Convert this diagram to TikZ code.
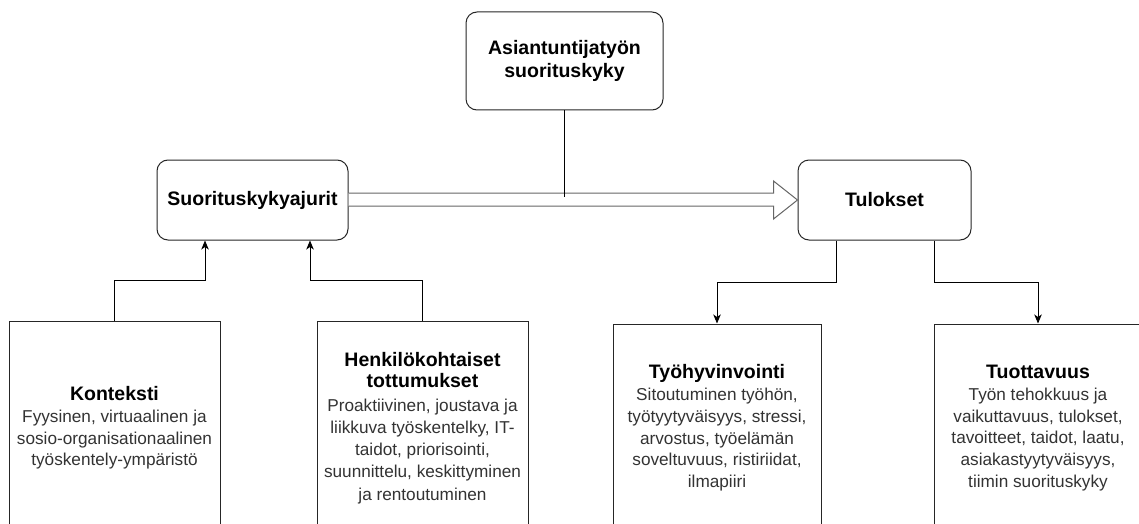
\documentclass[tikz,border=0pt]{standalone}
\usepackage{fontspec}
\setmainfont{Liberation Sans}
\usetikzlibrary{arrows.meta,calc}
\definecolor{bodytxt}{HTML}{333333}
\newcommand{\mytitlefont}{\fontsize{19.5}{23}\selectfont\bfseries}
\newcommand{\mybodyfont}{\fontsize{17.2}{21.8}\selectfont}
\begin{document}
\begin{tikzpicture}[x=1pt,y=-1pt,
  rbox/.style={draw=black!85, line width=1pt, rounded corners=11pt, align=center, inner sep=0pt, font=\mytitlefont},
  sbox/.style={draw=black!85, line width=1pt, align=center, inner sep=0pt, font=\mybodyfont, text=bodytxt},
  arr/.style={draw=black, line width=1pt, -{Stealth[length=9pt,width=7.5pt,inset=2.5pt]}},
  ln/.style={draw=black, line width=1pt},
  flex/.style={draw=black!60, line width=1pt, fill=white, line join=miter}]
\useasboundingbox (0,0) rectangle (1139,524);
\fill[white] (0,0) rectangle (1139,524);

\node[rbox, minimum width=197pt, minimum height=98pt] (top) at (564.5,61) {Asiantuntijatyön\\suorituskyky};
\node[rbox, minimum width=191pt, minimum height=80pt] (suor) at (252.5,200) {Suorituskykyajurit};
\node[rbox, minimum width=173pt, minimum height=80pt] (tul) at (884.5,200) {Tulokset};

\node[sbox, minimum width=211pt, minimum height=214pt] (kon) at (114.5,428)
  {{\mytitlefont\color{black}Konteksti}\\Fyysinen, virtuaalinen ja\\sosio-organisationaalinen\\työskentely-ympäristö};
\node[sbox, minimum width=211pt, minimum height=214pt] (henk) at (422.5,428)
  {{\mytitlefont\color{black}Henkilökohtaiset}\\{\mytitlefont\color{black}tottumukset}\\[2pt]Proaktiivinen, joustava ja\\liikkuva työskentelky, IT-\\taidot, priorisointi,\\suunnittelu, keskittyminen\\[1.5pt]ja rentoutuminen};
\node[sbox, minimum width=208pt, minimum height=208pt] (tyo) at (717,428)
  {{\mytitlefont\color{black}Työhyvinvointi}\\Sitoutuminen työhön,\\työtyytyväisyys, stressi,\\arvostus, työelämän\\soveltuvuus, ristiriidat,\\ilmapiiri};
\node[sbox, minimum width=208pt, minimum height=208pt] (tuot) at (1038,428)
  {{\mytitlefont\color{black}Tuottavuus}\\Työn tehokkuus ja\\vaikuttavuus, tulokset,\\tavoitteet, taidot, laatu,\\asiakastyytyväisyys,\\tiimin suorituskyky};

\draw[flex] ($(suor.east)+(0,-7)$) -- ($(tul.west)+(-24,-7)$) -- ($(tul.west)+(-24,-19)$) -- (tul.west)
  -- ($(tul.west)+(-24,19)$) -- ($(tul.west)+(-24,6)$) -- ($(suor.east)+(0,6)$);
\draw[ln] (top.south) -- ++(0,86);

\draw[arr] (kon.north) -- ++(0,-40) -| ([xshift=-47.5pt]suor.south);
\draw[arr] (henk.north) -- ++(0,-40) -| ([xshift=57.5pt]suor.south);
\draw[arr] ([xshift=-48.5pt]tul.south) -- ++(0,42) -| (tyo.north);
\draw[arr] ([xshift=49.5pt]tul.south) -- ++(0,42) -| (tuot.north);
\end{tikzpicture}
\end{document}
